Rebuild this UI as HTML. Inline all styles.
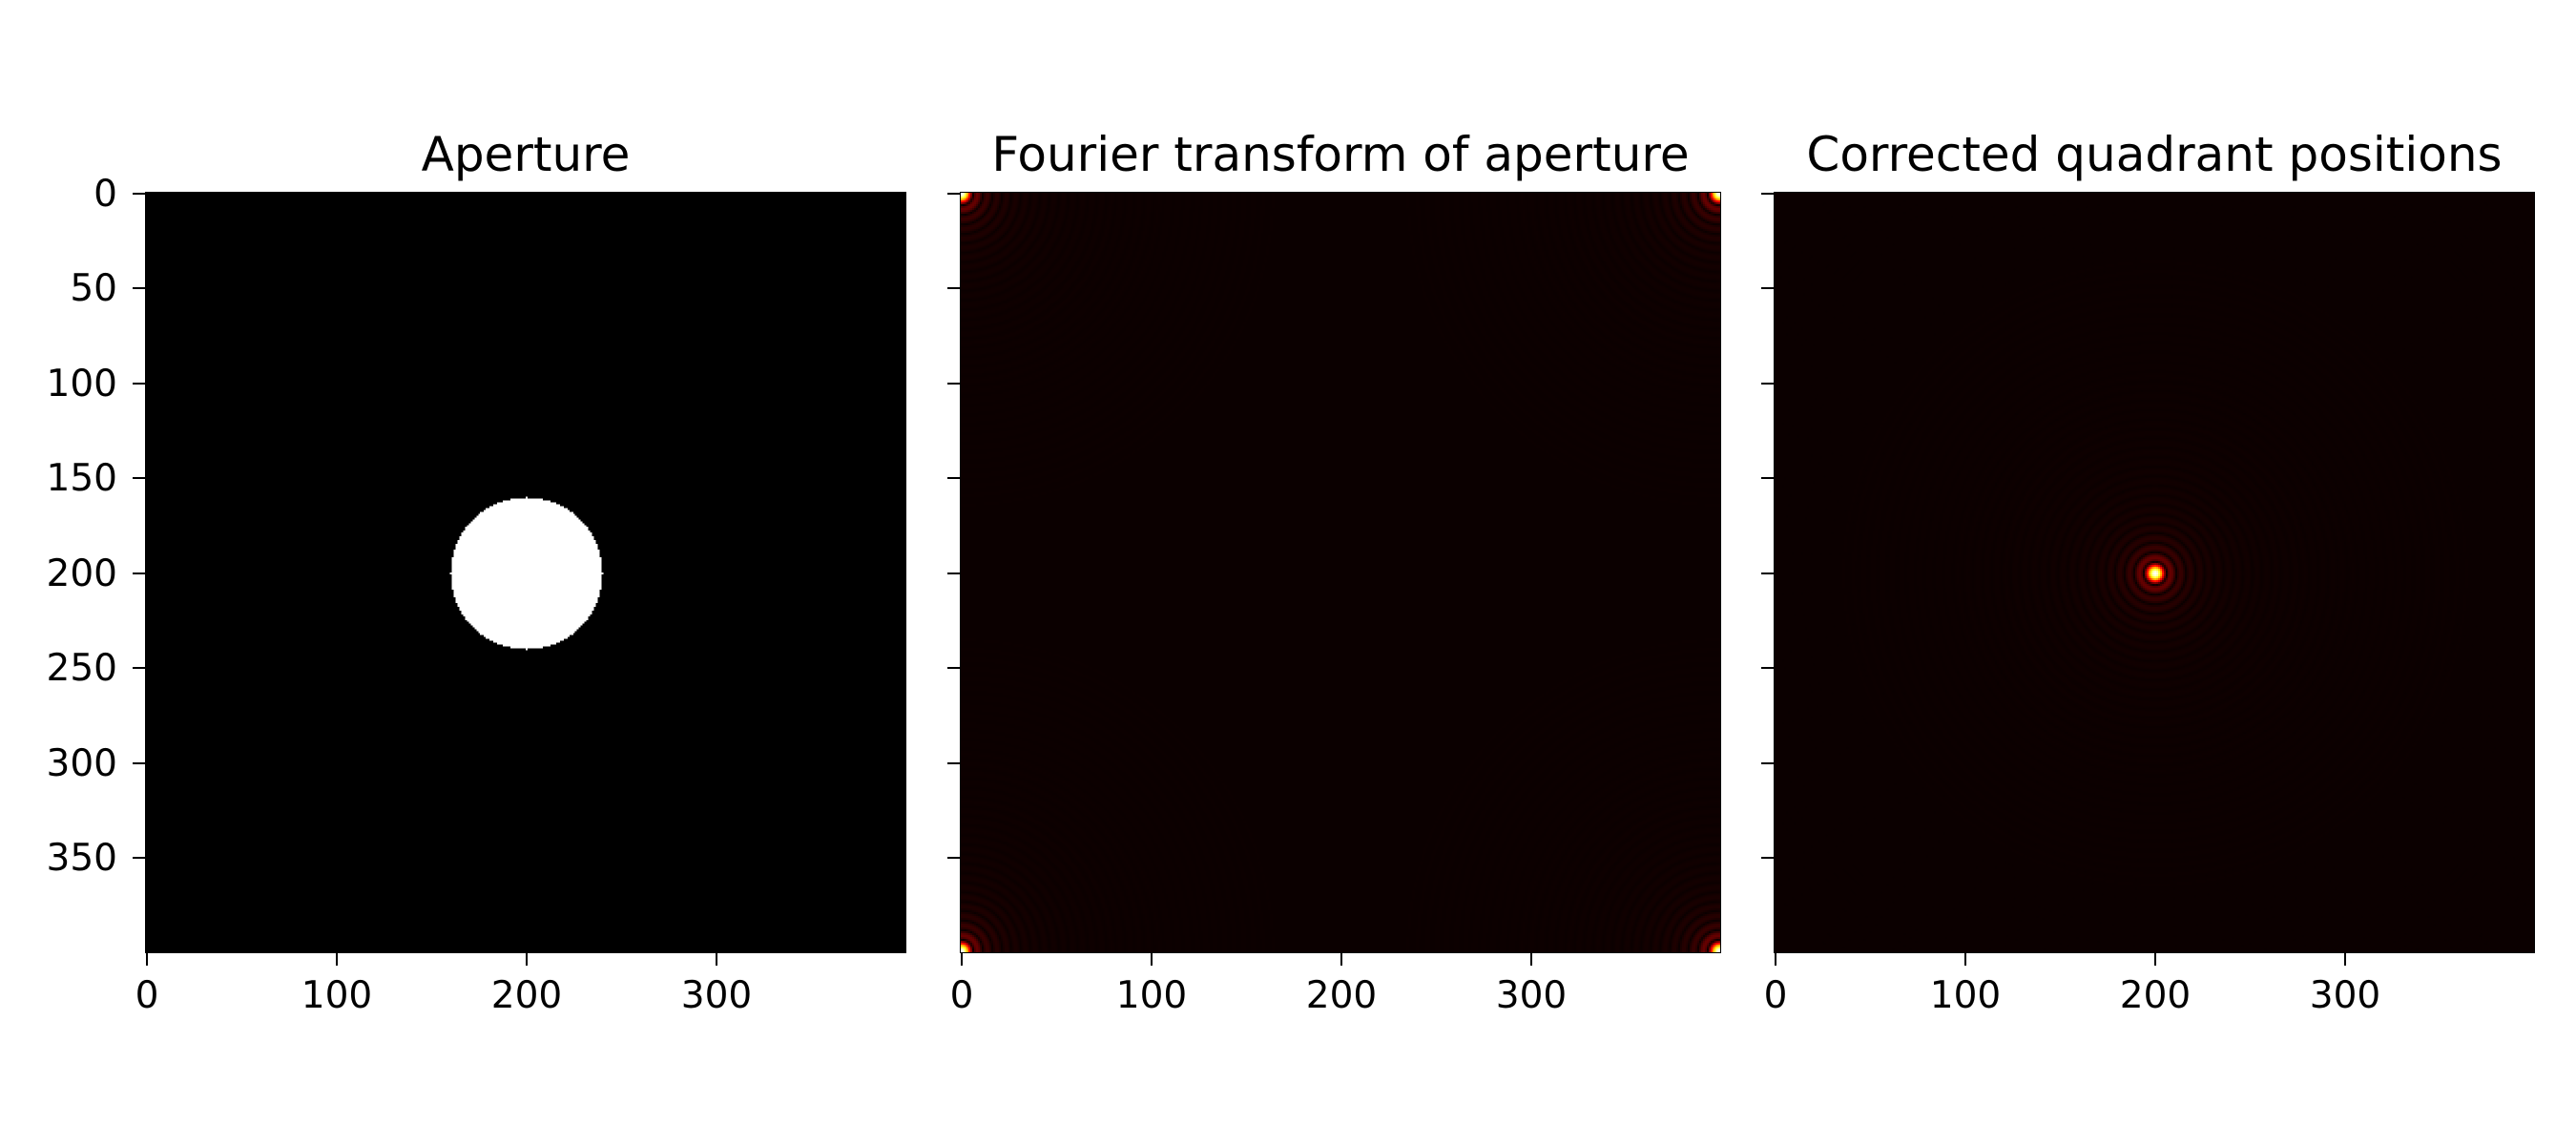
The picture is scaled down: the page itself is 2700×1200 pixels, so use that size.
<!DOCTYPE html>
<html><head><meta charset="utf-8"><style>
body{margin:0;background:#fff;}
#fig{position:relative;width:2700px;height:1200px;background:#fff;font-family:"DejaVu Sans","Liberation Sans",sans-serif;color:#000;overflow:hidden;}
.ax{position:absolute;top:202px;width:796px;height:796px;border:1px solid #000;box-sizing:content-box;}
.ax canvas{width:796px;height:796px;display:block;image-rendering:pixelated;}
.title{position:absolute;top:137px;font-size:50px;line-height:50px;text-align:center;width:1000px;white-space:nowrap;}
.tk{position:absolute;background:#000;}
.lbl{position:absolute;font-size:39px;line-height:39px;}
</style></head><body>
<div id="fig"></div>
<script>
const panelTitles=["Aperture","Fourier transform of aperture","Corrected quadrant positions"];
const tickValues=[0,100,200,300];
const yTickValues=[0,50,100,150,200,250,300,350];
const gridSize=400;
const apertureCenter=[200,200];
const apertureRadius=40;
const psfCentersFFT=[[0,0],[0,399],[399,0],[399,399]];
const psfCentersShifted=[[200,200]];
const lefts=[153,1007,1860];
const top0=202, sc=796/400;
const fig=document.getElementById('fig');
function bessj1(x){let ax=Math.abs(x),ans;
 if(ax<8){let y=x*x;
  let a1=x*(72362614232.0+y*(-7895059235.0+y*(242396853.1+y*(-2972611.439+y*(15704.48260+y*(-30.16036606))))));
  let a2=144725228442.0+y*(2300535178.0+y*(18583304.74+y*(99447.43394+y*(376.9991397+y*1.0))));
  ans=a1/a2;}else{let z=8/ax,y=z*z,xx=ax-2.356194491;
  let a1=1+y*(0.183105e-2+y*(-0.3516396496e-4+y*(0.2457520174e-5+y*(-0.240337019e-6))));
  let a2=0.04687499995+y*(-0.2002690873e-3+y*(0.8449199096e-5+y*(-0.88228987e-6+y*0.105787412e-6)));
  ans=Math.sqrt(0.636619772/ax)*(Math.cos(xx)*a1-z*Math.sin(xx)*a2);if(x<0)ans=-ans;}
 return ans;}
function hot(v){v=Math.max(0,Math.min(1,v));return [Math.min(1,v/0.365)*255,Math.max(0,Math.min(1,(v-0.365)/0.365))*255,Math.max(0,Math.min(1,(v-0.73)/0.27))*255];}
const k=3.8317/(1.22*gridSize/(2*apertureRadius));
function psf(cx){return function(x,y){let s=0;for(const c of cx){const r=Math.hypot(x-c[0],y-c[1])*k;const a=r<1e-6?1:Math.abs(2*bessj1(r)/r);s=Math.max(s,a);}return 0.015+0.985*s;};}
function mk(i,fn){
 const ax=document.createElement('div');ax.className='ax';ax.style.left=(lefts[i]-1)+'px';ax.style.top=(top0-1)+'px';
 
 
 const cv=document.createElement('canvas');cv.width=gridSize;cv.height=gridSize;
 
 
 const ctx=cv.getContext('2d');const im=ctx.createImageData(gridSize,gridSize);
 for(let y=0;y<gridSize;y++)for(let x=0;x<gridSize;x++){const c=fn(x,y);const p=(y*gridSize+x)*4;im.data[p]=c[0];im.data[p+1]=c[1];im.data[p+2]=c[2];im.data[p+3]=255;}
 ctx.putImageData(im,0,0);ax.appendChild(cv);fig.appendChild(ax);
 const t=document.createElement('div');t.className='title';t.textContent=panelTitles[i];t.style.left=(lefts[i]+398-500)+'px';
 
 
 fig.appendChild(t);
 for(const v of tickValues){const px=lefts[i]+(v+0.5)*sc;
  const tk=document.createElement('div');tk.className='tk';tk.style.left=(px-1)+'px';tk.style.top=(top0+797)+'px';tk.style.width='2px';tk.style.height='13px';
  
  
  fig.appendChild(tk);
  const l=document.createElement('div');l.className='lbl';l.textContent=v;l.style.left=(px-60)+'px';l.style.width='120px';l.style.textAlign='center';l.style.top='1024px';
  
  
  fig.appendChild(l);}
 for(const v of yTickValues){const py=top0+(v+0.5)*sc;
  const tk=document.createElement('div');tk.className='tk';tk.style.left=(lefts[i]-14)+'px';tk.style.top=(py-1)+'px';tk.style.width='13px';tk.style.height='2px';
  
  
  fig.appendChild(tk);
  if(i===0){const l=document.createElement('div');l.className='lbl';l.textContent=v;l.style.left='0px';l.style.width='123px';l.style.textAlign='right';l.style.top=(py-19)+'px';
   
   
   fig.appendChild(l);}}
}
mk(0,(x,y)=>Math.hypot(x-apertureCenter[0],y-apertureCenter[1])<=apertureRadius?[255,255,255]:[0,0,0]);
const f2=psf(psfCentersFFT);mk(1,(x,y)=>hot(f2(x,y)));
const f3=psf(psfCentersShifted);mk(2,(x,y)=>hot(f3(x,y)));
</script>
</body></html>
